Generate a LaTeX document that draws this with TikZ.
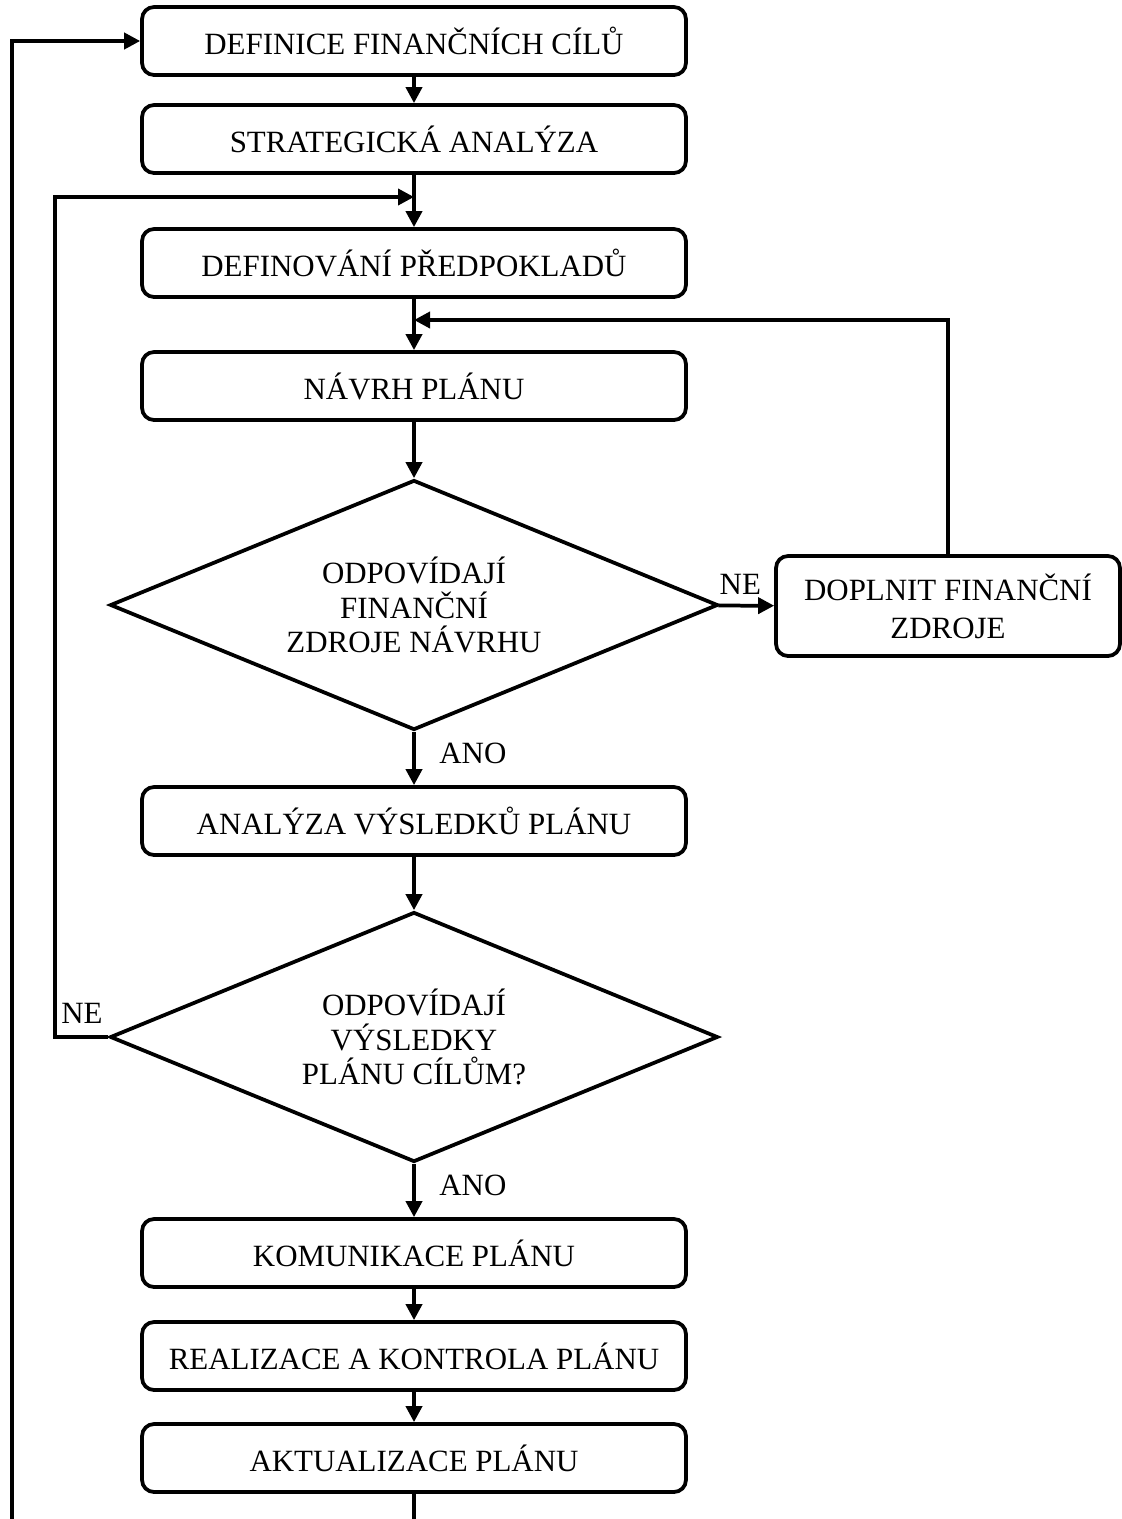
\documentclass[tikz,border=0pt]{standalone}
\usepackage{fontspec}
\setmainfont{Liberation Serif}
\usetikzlibrary{shapes.geometric,arrows.meta}
\begin{document}
\begin{tikzpicture}[x=0.02cm,y=-0.02cm,line width=0.075cm,
  txt/.style={font=\fontsize{17.6}{19.5}\selectfont},
  proc/.style={draw,rounded corners=0.24cm,minimum width=10.88cm,minimum height=1.36cm,inner sep=0pt,align=center,txt},
  dec/.style={draw,diamond,shape aspect=2.432,minimum width=12.16cm,minimum height=5cm,inner sep=0pt,align=center,txt},
  arr/.style={-{Triangle[length=0.32cm,width=0.32cm]}},
  lbl/.style={txt,inner sep=2pt}]
\useasboundingbox (0,0) rectangle (1122,1519);
\node[proc] (b1) at (414,41) {DEFINICE FINANČNÍCH CÍLŮ};
\node[proc] (b2) at (414,139) {STRATEGICKÁ ANALÝZA};
\node[proc] (b3) at (414,263) {DEFINOVÁNÍ PŘEDPOKLADŮ};
\node[proc] (b4) at (414,386) {NÁVRH PLÁNU};
\node[dec] (d1) at (414,605) {ODPOVÍDAJÍ\\FINANČNÍ\\ZDROJE NÁVRHU};
\node[proc,minimum width=6.88cm,minimum height=2cm,font=\fontsize{17.6}{21.5}\selectfont] (dz) at (948,606) {DOPLNIT FINANČNÍ\\ZDROJE};
\node[proc] (b5) at (414,821) {ANALÝZA VÝSLEDKŮ PLÁNU};
\node[dec] (d2) at (414,1037) {ODPOVÍDAJÍ\\VÝSLEDKY\\PLÁNU CÍLŮM?};
\node[proc] (b6) at (414,1253) {KOMUNIKACE PLÁNU};
\node[proc] (b7) at (414,1356) {REALIZACE A KONTROLA PLÁNU};
\node[proc] (b8) at (414,1458) {AKTUALIZACE PLÁNU};
\coordinate (j1) at (414,320);
\coordinate (j2) at (414,197);
\coordinate (l2) at (55,197);
\coordinate (bot) at (414,1535);
\coordinate (bl) at (12,1535);
\coordinate (tl) at (12,41);
\draw[arr] (b1) -- (b2);
\draw[arr] (b2) -- (b3);
\draw[arr] (b3) -- (b4);
\draw[arr] (b4) -- (d1);
\draw[arr] (d1) -- node[lbl,above,xshift=-0.12cm,yshift=0.12cm]{NE} (dz);
\draw[arr] (dz.north) |- (j1);
\draw[arr] (d1) -- node[lbl,right,xshift=0.4cm,yshift=0.1cm]{ANO} (b5);
\draw[arr] (b5) -- (d2);
\draw[arr] (d2) -- node[lbl,right,xshift=0.4cm,yshift=0.1cm]{ANO} (b6);
\draw[arr] (d2.west) -| (l2) -- (j2);
\node[lbl] (ne2) at (82,1013) {NE};
\draw[arr] (b6) -- (b7);
\draw[arr] (b7) -- (b8);
\draw[arr] (b8) -- (bot) -- (bl) -- (tl) -- (b1.west);
\end{tikzpicture}
\end{document}
